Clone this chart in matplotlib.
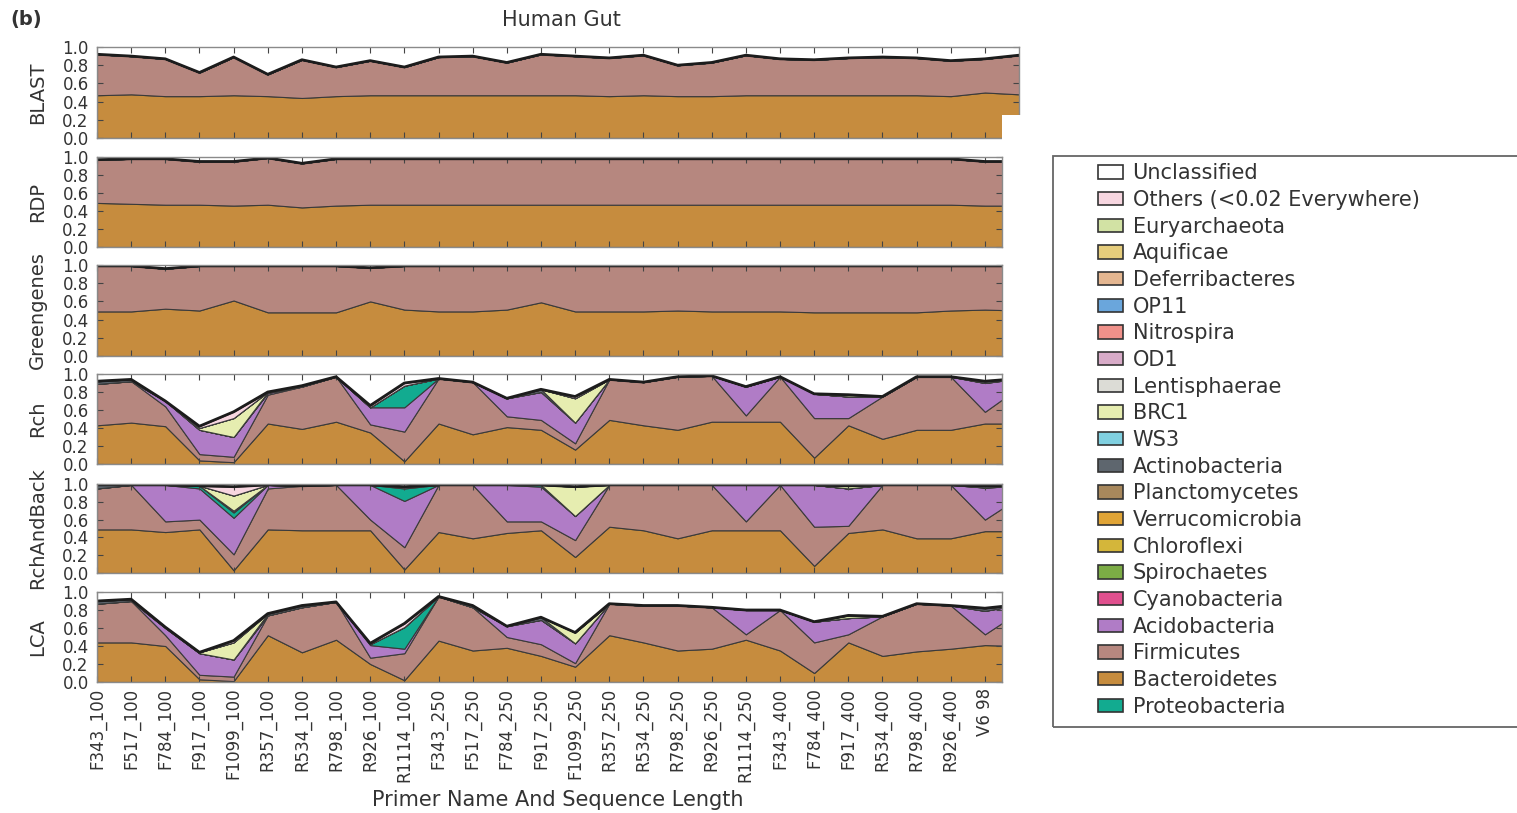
import numpy as np
import matplotlib
matplotlib.use('Agg')
from matplotlib import pyplot as plt
from matplotlib.patches import Patch, Rectangle

# подписи по оси X (последняя точка без подписи - край графика)
primers = ['F343_100', 'F517_100', 'F784_100', 'F917_100', 'F1099_100', 'R357_100',
           'R534_100', 'R798_100', 'R926_100', 'R1114_100', 'F343_250', 'F517_250',
           'F784_250', 'F917_250', 'F1099_250', 'R357_250', 'R534_250', 'R798_250',
           'R926_250', 'R1114_250', 'F343_400', 'F784_400', 'F917_400', 'R534_400',
           'R798_400', 'R926_400', 'V6 98']

# BLAST: верх Bacteroidetes и верх Firmicutes (накопленные доли)
blast_bact = [0.47, 0.48, 0.46, 0.46, 0.47, 0.46, 0.44, 0.46, 0.47, 0.47, 0.47, 0.47, 0.47, 0.47,
              0.47, 0.46, 0.47, 0.46, 0.46, 0.47, 0.47, 0.47, 0.47, 0.47, 0.47, 0.46, 0.50, 0.48]
blast_firm = [0.92, 0.90, 0.87, 0.72, 0.89, 0.70, 0.86, 0.78, 0.85, 0.78, 0.89, 0.90, 0.83, 0.92,
              0.90, 0.88, 0.91, 0.80, 0.83, 0.91, 0.87, 0.86, 0.88, 0.89, 0.88, 0.85, 0.87, 0.91]

# RDP
rdp_bact = [0.49, 0.48, 0.47, 0.47, 0.46, 0.47, 0.44, 0.46, 0.47, 0.47, 0.47, 0.47, 0.47, 0.47,
            0.47, 0.47, 0.47, 0.47, 0.47, 0.47, 0.47, 0.47, 0.47, 0.47, 0.47, 0.47, 0.46, 0.46]
rdp_firm = [0.97, 0.98, 0.98, 0.95, 0.95, 0.99, 0.93, 0.98, 0.98, 0.98, 0.98, 0.98, 0.98, 0.98,
            0.98, 0.98, 0.98, 0.98, 0.98, 0.98, 0.98, 0.98, 0.98, 0.98, 0.98, 0.98, 0.95, 0.95]

# Greengenes
gg_bact = [0.49, 0.49, 0.52, 0.50, 0.61, 0.48, 0.48, 0.48, 0.60, 0.51, 0.49, 0.49, 0.51, 0.59,
           0.49, 0.49, 0.49, 0.50, 0.49, 0.49, 0.49, 0.48, 0.48, 0.48, 0.48, 0.50, 0.51, 0.50]
gg_firm = [0.99, 0.99, 0.96, 0.99, 0.99, 0.99, 0.99, 0.99, 0.97, 0.99, 0.99, 0.99, 0.99, 0.99,
           0.99, 0.99, 0.99, 0.99, 0.99, 0.99, 0.99, 0.99, 0.99, 0.99, 0.99, 0.99, 0.99, 0.99]

# Rch: накопленные верхние границы + толщины редких слоёв
rch_bact = [0.43, 0.46, 0.42, 0.04, 0.02, 0.45, 0.39, 0.47, 0.35, 0.03, 0.45, 0.33, 0.41, 0.38,
            0.16, 0.49, 0.43, 0.38, 0.47, 0.47, 0.47, 0.07, 0.43, 0.28, 0.38, 0.38, 0.45, 0.45]
rch_firm = [0.89, 0.92, 0.64, 0.11, 0.08, 0.77, 0.86, 0.97, 0.44, 0.36, 0.95, 0.91, 0.53, 0.49,
            0.23, 0.94, 0.91, 0.97, 0.98, 0.54, 0.97, 0.51, 0.51, 0.75, 0.97, 0.97, 0.58, 0.85]
rch_acid = [0.89, 0.92, 0.70, 0.38, 0.30, 0.79, 0.86, 0.97, 0.63, 0.63, 0.95, 0.91, 0.73, 0.80,
            0.46, 0.94, 0.91, 0.97, 0.98, 0.86, 0.97, 0.78, 0.75, 0.75, 0.97, 0.97, 0.90, 0.95]
rch_proteo = [0, 0, 0, 0, 0, 0, 0, 0, 0, 0.24, 0, 0, 0, 0,
              0, 0, 0, 0, 0, 0, 0, 0, 0, 0, 0, 0, 0, 0]
rch_actino = [0.03, 0.02, 0, 0, 0, 0.01, 0.01, 0, 0, 0, 0, 0, 0, 0.03,
              0, 0, 0, 0, 0, 0, 0, 0, 0, 0, 0, 0, 0.02, 0]
rch_brc1 = [0, 0, 0, 0.02, 0.21, 0, 0, 0, 0, 0, 0, 0, 0, 0,
            0.27, 0, 0, 0, 0, 0, 0, 0, 0, 0, 0, 0, 0, 0]
rch_eury = [0, 0, 0, 0, 0, 0, 0, 0, 0, 0, 0, 0, 0, 0,
            0, 0, 0, 0, 0, 0, 0, 0, 0.02, 0, 0, 0, 0, 0]
rch_others = [0, 0, 0, 0.02, 0.07, 0, 0, 0, 0.02, 0.03, 0, 0, 0, 0,
              0.02, 0, 0, 0, 0, 0, 0, 0, 0, 0, 0, 0, 0, 0]

# RchAndBack
rab_bact = [0.49, 0.49, 0.46, 0.49, 0.03, 0.49, 0.48, 0.48, 0.48, 0.04, 0.46, 0.39, 0.45, 0.48,
            0.18, 0.52, 0.48, 0.39, 0.48, 0.48, 0.48, 0.08, 0.45, 0.49, 0.39, 0.39, 0.47, 0.47]
rab_firm = [0.95, 0.99, 0.58, 0.60, 0.21, 0.95, 0.98, 0.99, 0.60, 0.29, 0.99, 0.99, 0.58, 0.58,
            0.37, 0.99, 0.99, 0.99, 0.99, 0.58, 0.99, 0.52, 0.53, 0.99, 0.99, 0.99, 0.60, 0.85]
rab_acid = [0.95, 0.99, 0.99, 0.95, 0.62, 0.99, 0.98, 0.99, 0.99, 0.81, 0.99, 0.99, 0.99, 0.97,
            0.64, 0.99, 0.99, 0.99, 0.99, 0.99, 0.99, 0.99, 0.95, 0.99, 0.99, 0.99, 0.96, 0.98]
rab_proteo = [0, 0, 0, 0.03, 0.06, 0, 0, 0, 0, 0.14, 0, 0, 0, 0.02,
              0, 0, 0, 0, 0, 0, 0, 0, 0, 0, 0, 0, 0, 0]
rab_actino = [0.04, 0, 0, 0, 0.02, 0, 0, 0, 0, 0.02, 0, 0, 0, 0,
              0, 0, 0, 0, 0, 0, 0, 0, 0, 0, 0, 0, 0.02, 0]
rab_brc1 = [0, 0, 0, 0, 0.17, 0, 0, 0, 0, 0, 0, 0, 0, 0,
            0.33, 0, 0, 0, 0, 0, 0, 0, 0, 0, 0, 0, 0, 0]
rab_eury = [0, 0, 0, 0, 0, 0, 0, 0, 0, 0, 0, 0, 0, 0,
            0, 0, 0, 0, 0, 0, 0, 0, 0.03, 0, 0, 0, 0, 0]
rab_others = [0, 0, 0, 0, 0.10, 0, 0, 0, 0, 0, 0, 0, 0, 0,
              0, 0, 0, 0, 0, 0, 0, 0, 0, 0, 0, 0, 0, 0]

# LCA
lca_bact = [0.44, 0.44, 0.40, 0.03, 0.01, 0.52, 0.33, 0.47, 0.20, 0.02, 0.46, 0.35, 0.38, 0.29,
            0.17, 0.52, 0.44, 0.35, 0.37, 0.47, 0.35, 0.10, 0.44, 0.29, 0.34, 0.37, 0.41, 0.40]
lca_firm = [0.87, 0.90, 0.52, 0.08, 0.06, 0.74, 0.83, 0.89, 0.27, 0.32, 0.95, 0.83, 0.50, 0.42,
            0.21, 0.87, 0.85, 0.85, 0.83, 0.53, 0.80, 0.44, 0.53, 0.73, 0.87, 0.85, 0.53, 0.78]
lca_acid = [0.87, 0.90, 0.60, 0.32, 0.25, 0.74, 0.83, 0.89, 0.41, 0.37, 0.95, 0.83, 0.62, 0.69,
            0.43, 0.87, 0.85, 0.85, 0.83, 0.80, 0.80, 0.67, 0.71, 0.73, 0.87, 0.85, 0.79, 0.86]
lca_proteo = [0, 0, 0, 0, 0, 0, 0, 0, 0.01, 0.24, 0, 0, 0, 0,
              0, 0, 0, 0, 0, 0, 0, 0, 0, 0, 0, 0, 0, 0]
lca_actino = [0.03, 0.02, 0.01, 0, 0, 0.02, 0.02, 0, 0, 0, 0, 0.02, 0, 0.03,
              0, 0, 0, 0, 0, 0, 0, 0, 0, 0, 0, 0, 0.03, 0]
lca_brc1 = [0, 0, 0, 0.01, 0.19, 0, 0, 0, 0, 0, 0, 0, 0, 0,
            0.12, 0, 0, 0, 0, 0, 0, 0, 0, 0, 0, 0, 0, 0]
lca_eury = [0, 0, 0, 0, 0, 0, 0, 0, 0, 0, 0, 0, 0, 0,
            0, 0, 0, 0, 0, 0, 0, 0, 0.03, 0, 0, 0, 0, 0]
lca_others = [0, 0, 0, 0, 0.02, 0, 0, 0, 0.01, 0.04, 0, 0, 0, 0,
              0, 0, 0, 0, 0, 0, 0, 0, 0, 0, 0, 0, 0, 0]

# легенда (сверху вниз) и цвета
phyla = ['Unclassified', 'Others (<0.02 Everywhere)', 'Euryarchaeota', 'Aquificae',
         'Deferribacteres', 'OP11', 'Nitrospira', 'OD1', 'Lentisphaerae', 'BRC1', 'WS3',
         'Actinobacteria', 'Planctomycetes', 'Verrucomicrobia', 'Chloroflexi', 'Spirochaetes',
         'Cyanobacteria', 'Acidobacteria', 'Firmicutes', 'Bacteroidetes', 'Proteobacteria']
phyla_colors = ['#ffffff', '#f7d6e0', '#d2e2a4', '#e6cd7c', '#e4b690', '#6aa6dc', '#f0918a',
                '#d8abc8', '#dcdcd6', '#e6edb0', '#80d0e0', '#5e666e', '#a8885c', '#e0a436',
                '#d4b63a', '#7cac45', '#e0508e', '#b07cc6', '#b6877f', '#c68c3e', '#12ab90']
col = dict(zip(phyla, phyla_colors))

W, H = 1517, 813
fig = plt.figure(figsize=(W / 100, H / 100), dpi=100)

# (метка, данные, верх/низ панели в пикселях)
panels = [
    ('BLAST', (blast_bact, blast_firm, None, None, None, None, None, None), 47, 138),
    ('RDP', (rdp_bact, rdp_firm, None, None, None, None, None, None), 157, 247),
    ('Greengenes', (gg_bact, gg_firm, None, None, None, None, None, None), 265, 356),
    ('Rch', (rch_bact, rch_firm, rch_acid, rch_proteo, rch_actino, rch_brc1, rch_eury, rch_others), 374, 464),
    ('RchAndBack', (rab_bact, rab_firm, rab_acid, rab_proteo, rab_actino, rab_brc1, rab_eury, rab_others), 484, 573),
    ('LCA', (lca_bact, lca_firm, lca_acid, lca_proteo, lca_actino, lca_brc1, lca_eury, lca_others), 592, 682),
]

x = np.arange(len(blast_bact))
stack_names = ['Bacteroidetes', 'Firmicutes', 'Acidobacteria', 'Proteobacteria',
               'Actinobacteria', 'BRC1', 'Euryarchaeota', 'Others (<0.02 Everywhere)']

for k, (name, d, top, bot) in enumerate(panels):
    bact, firm, acid, proteo, actino, brc1, eury, others = d
    bact = np.array(bact)
    firm = np.array(firm)
    acid = firm if acid is None else np.array(acid)
    z = np.zeros(len(x))
    extra = [z if v is None else np.array(v, dtype=float) for v in (proteo, actino, brc1, eury, others)]
    layers = [bact, firm - bact, acid - firm] + extra
    total = np.sum(layers, axis=0)

    left = 97
    right = 1019 if k == 0 else 1002
    ax = fig.add_axes([left / W, 1 - bot / H, (right - left) / W, (bot - top) / H])
    ax.stackplot(x, *layers, colors=[col[n] for n in stack_names],
                 edgecolor='#3a3a3a', linewidth=0.8)
    ax.plot(x, total, color='#1c1c1c', linewidth=2)

    px_per_unit = 34.15
    ax.set_xlim(0, (right - left) / px_per_unit)
    ax.set_ylim(0, 1)
    ax.set_yticks(np.arange(0, 1.01, 0.2))
    ax.set_yticklabels(['%.1f' % v for v in np.arange(0, 1.01, 0.2)])
    ax.set_xticks(np.arange(len(primers)))
    ax.tick_params(direction='in', top=True, right=True, length=4, width=0.8,
                   color='#444', labelsize=12, labelcolor='#333')
    ax.tick_params(axis='y', pad=6)
    ax.tick_params(axis='x', pad=4)
    for s in ax.spines.values():
        s.set_color('#8a8a8a')
        s.set_linewidth(1.0)
    ax.set_ylabel(name, fontsize=14, color='#333')
    ax.yaxis.set_label_coords((47 - left) / (right - left), 0.5)
    if name == 'LCA':
        ax.set_xticklabels(primers, rotation=90, fontsize=12, color='#333')
    else:
        ax.tick_params(labelbottom=False)

# белый кусок поверх правого нижнего угла BLAST (как на исходной картинке)
fig.add_artist(Rectangle((1002 / W, 1 - 142 / H), 30 / W, 27 / H,
                         transform=fig.transFigure, facecolor='white',
                         edgecolor='none', zorder=10))

fig.text(561 / W, 1 - 20 / H, 'Human Gut', fontsize=15, color='#333', ha='center', va='center')
fig.text(10 / W, 1 - 20 / H, '(b)', fontsize=14, fontweight='bold', color='#333', ha='left', va='center')
fig.text(558 / W, 1 - 800 / H, 'Primer Name And Sequence Length', fontsize=15, color='#333',
         ha='center', va='center')

# рамка легенды уходит за правый край
fig.add_artist(Rectangle((1053 / W, 1 - 727 / H), 0.4, (727 - 156) / H,
                         transform=fig.transFigure, fill=False, edgecolor='#666',
                         linewidth=1.3, zorder=5))
handles = [Patch(facecolor=col[n], edgecolor='#333', linewidth=1.2) for n in phyla]
fig.legend(handles, phyla, loc='upper left', bbox_to_anchor=(1092 / W, 1 - 157 / H),
           frameon=False, fontsize=15, borderpad=0.3, borderaxespad=0,
           handlelength=1.2, handleheight=0.6, handletextpad=0.45, labelspacing=0.32,
           labelcolor='#333')

plt.savefig('out.png', dpi=100)
plt.close()
